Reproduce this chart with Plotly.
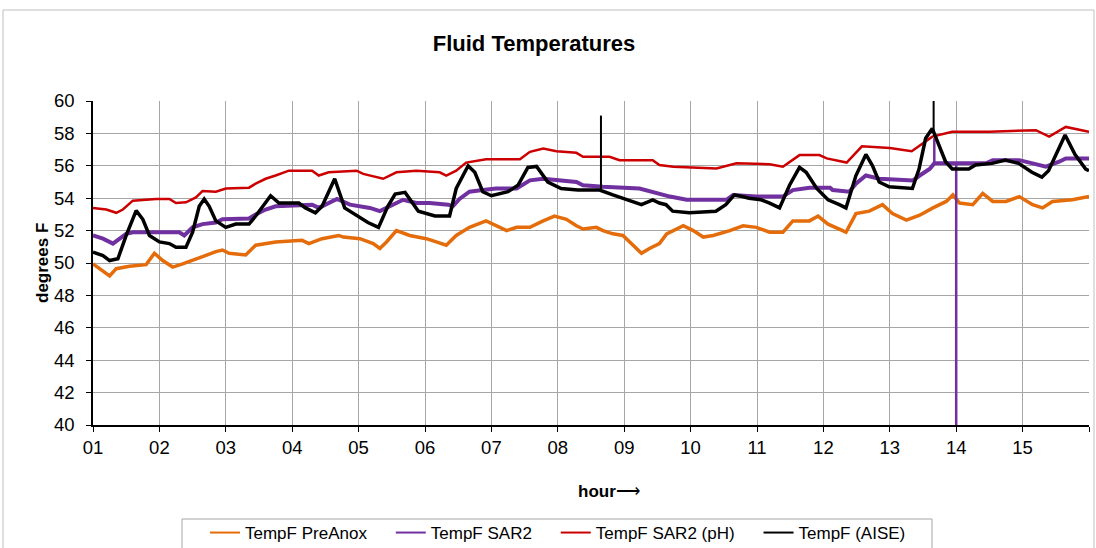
import plotly.graph_objects as go

# ---------------- data ----------------
day_ticks = list(range(1, 17))
day_labels = [f"{d:02d}" for d in range(1, 16)] + [""]
y_ticks = list(range(40, 61, 2))

preanox_x = [1.0, 1.15, 1.25, 1.35, 1.55, 1.8, 1.925, 2.05, 2.2, 2.35, 2.5, 2.65, 2.85, 2.95, 3.05, 3.3,
             3.45, 3.75, 4.15, 4.25, 4.45, 4.7, 4.77, 5.02, 5.22, 5.32, 5.42, 5.57, 5.77, 6.02, 6.17, 6.32,
             6.47, 6.67, 6.92, 7.07, 7.23, 7.38, 7.58, 7.78, 7.95, 8.13, 8.28, 8.38, 8.58, 8.68, 8.83, 8.98,
             9.13, 9.26, 9.38, 9.53, 9.64, 9.89, 10.04, 10.19, 10.34, 10.59, 10.79, 10.99, 11.19, 11.39,
             11.54, 11.79, 11.92, 12.07, 12.29, 12.34, 12.49, 12.69, 12.89, 13.04, 13.25, 13.45, 13.65,
             13.85, 13.95, 14.05, 14.25, 14.4, 14.55, 14.75, 14.95, 15.15, 15.3, 15.45, 15.75, 15.95, 16.0]
preanox_y = [49.95, 49.5, 49.2, 49.65, 49.8, 49.9, 50.6, 50.15, 49.75, 49.95, 50.15, 50.4, 50.7, 50.8, 50.6, 50.5,
             51.1, 51.3, 51.4, 51.2, 51.5, 51.7, 51.6, 51.5, 51.2, 50.9, 51.3, 52.0, 51.7, 51.5, 51.3, 51.1,
             51.7, 52.2, 52.6, 52.3, 52.0, 52.2, 52.2, 52.6, 52.9, 52.7, 52.3, 52.1, 52.2, 52.0, 51.8, 51.7,
             51.1, 50.6, 50.9, 51.2, 51.8, 52.3, 52.0, 51.6, 51.7, 52.0, 52.3, 52.2, 51.9, 51.9,
             52.6, 52.6, 52.9, 52.4, 52.0, 51.9, 53.05, 53.2, 53.6, 53.05, 52.65, 52.95, 53.4,
             53.8, 54.2, 53.7, 53.6, 54.3, 53.8, 53.8, 54.1, 53.6, 53.4, 53.8, 53.9, 54.1, 54.1]

sar2_x = [1.0, 1.15, 1.3, 1.4, 1.5, 1.6, 2.3, 2.375, 2.5, 2.65, 2.85, 2.95, 3.35, 3.45, 3.6, 3.75, 4.15,
          4.3, 4.4, 4.55, 4.675, 4.87, 5.17, 5.32, 5.47, 5.67, 5.87, 6.07, 6.35, 6.42, 6.52, 6.67, 6.87,
          7.07, 7.38, 7.58, 7.78, 8.08, 8.28, 8.38, 8.68, 9.23, 9.49, 9.69, 9.94, 10.54, 10.64, 10.99,
          11.39, 11.54, 11.79, 12.1, 12.14, 12.39, 12.49, 12.64, 12.84, 13.35, 13.45, 13.6, 13.67, 13.75,
          13.99, 14.45, 14.55, 14.95, 15.15, 15.35, 15.55, 15.65, 15.95, 16.0]
sar2_y = [51.7, 51.5, 51.2, 51.5, 51.8, 51.9, 51.9, 51.7, 52.2, 52.4, 52.5, 52.7, 52.75, 53.0, 53.3, 53.5, 53.6,
          53.6, 53.4, 53.7, 53.95, 53.6, 53.4, 53.2, 53.5, 53.9, 53.7, 53.7, 53.6, 53.5, 53.95, 54.4, 54.5,
          54.6, 54.6, 55.1, 55.2, 55.1, 55.0, 54.8, 54.7, 54.6, 54.3, 54.1, 53.9, 53.9, 54.2, 54.1,
          54.1, 54.5, 54.65, 54.65, 54.5, 54.4, 54.9, 55.4, 55.2, 55.1, 55.4, 55.8, 56.15, 56.15,
          56.1, 56.15, 56.35, 56.35, 56.15, 55.95, 56.25, 56.45, 56.45, 56.45]
# thin excursions of the SAR2 probe (spike at 13.67, dropout at 14.0)
sar2_spike_x = [13.67, 13.67, None, 14.0, 14.0]
sar2_spike_y = [56.1, 57.7, None, 56.1, 39.0]

ph_x = [1.0, 1.2, 1.35, 1.45, 1.6, 1.95, 2.15, 2.25, 2.4, 2.55, 2.65, 2.85, 3.0, 3.35, 3.45, 3.6, 3.75,
        3.95, 4.3, 4.4, 4.55, 4.97, 5.07, 5.37, 5.57, 5.87, 6.22, 6.32, 6.47, 6.62, 6.92, 7.28, 7.43,
        7.58, 7.78, 7.98, 8.28, 8.38, 8.78, 8.93, 9.43, 9.53, 9.74, 10.39, 10.69, 11.19, 11.39, 11.64,
        11.94, 12.05, 12.35, 12.58, 13.0, 13.33, 13.64, 13.94, 14.5, 15.2, 15.4, 15.65, 16.0]
ph_y = [53.4, 53.3, 53.1, 53.3, 53.85, 53.95, 53.95, 53.7, 53.75, 54.05, 54.45, 54.4, 54.6, 54.65, 54.9, 55.2, 55.4,
        55.7, 55.7, 55.4, 55.6, 55.7, 55.5, 55.2, 55.6, 55.7, 55.6, 55.4, 55.7, 56.2, 56.4, 56.4, 56.4,
        56.86, 57.07, 56.9, 56.8, 56.56, 56.56, 56.35, 56.35, 56.05, 55.94, 55.84, 56.15, 56.1, 55.94, 56.66,
        56.66, 56.46, 56.2, 57.2, 57.1, 56.9, 57.8, 58.1, 58.1, 58.2, 57.8, 58.4, 58.1]

aise_x = [1.0, 1.15, 1.25, 1.375, 1.5, 1.65, 1.75, 1.85, 2.0, 2.15, 2.25, 2.4, 2.5, 2.6, 2.675, 2.75, 2.85,
          3.0, 3.15, 3.35, 3.45, 3.6, 3.675, 3.8, 4.1, 4.2, 4.35, 4.45, 4.57, 4.64, 4.79, 4.985, 5.14, 5.3,
          5.44, 5.55, 5.7, 5.9, 6.15, 6.37, 6.47, 6.65, 6.75, 6.87, 7.0, 7.25, 7.4, 7.55, 7.68, 7.85, 8.05,
          8.3, 8.63, 8.83, 9.03, 9.26, 9.43, 9.53, 9.63, 9.73, 9.98, 10.38, 10.53, 10.66, 10.78, 10.88,
          11.06, 11.19, 11.34, 11.49, 11.64, 11.74, 11.9, 12.07, 12.24, 12.34, 12.49, 12.64, 12.74, 12.84,
          12.99, 13.34, 13.44, 13.54, 13.64, 13.74, 13.84, 13.94, 14.19, 14.29, 14.54, 14.74, 14.94,
          15.14, 15.29, 15.39, 15.64, 15.79, 15.95, 16.0]
aise_y = [50.67, 50.46, 50.15, 50.26, 51.7, 53.23, 52.7, 51.7, 51.3, 51.2, 50.97, 50.97, 51.9, 53.5, 53.95, 53.5, 52.6,
          52.2, 52.4, 52.4, 52.9, 53.7, 54.15, 53.7, 53.7, 53.4, 53.1, 53.5, 54.5, 55.2, 53.4, 52.9, 52.5, 52.2,
          53.5, 54.26, 54.36, 53.2, 52.9, 52.9, 54.6, 56.0, 55.6, 54.4, 54.15, 54.4, 54.8, 55.9, 55.96, 55.0, 54.6,
          54.5, 54.5, 54.2, 53.9, 53.6, 53.9, 53.7, 53.6, 53.2, 53.1, 53.2, 53.6, 54.2, 54.1, 54.0,
          53.9, 53.7, 53.4, 54.8, 55.9, 55.6, 54.6, 53.9, 53.6, 53.4, 55.4, 56.7, 56.0, 55.0,
          54.7, 54.6, 55.8, 57.7, 58.3, 57.3, 56.25, 55.8, 55.8, 56.05, 56.15, 56.35, 56.15,
          55.6, 55.3, 55.7, 57.9, 56.7, 55.8, 55.7]
# thin spikes of the AISE probe
aise_spike_x = [8.65, 8.65, None, 13.66, 13.66]
aise_spike_y = [54.4, 59.1, None, 58.2, 61.0]

series_names = ["TempF PreAnox", "TempF SAR2", "TempF SAR2 (pH)", "TempF (AISE)"]

# ---------------- figure ----------------
C_ORANGE = "#E46C0A"
C_PURPLE = "#7030A0"
C_RED = "#CC0000"
C_BLACK = "#000000"
colors = [C_ORANGE, C_PURPLE, C_RED, C_BLACK]
FONT = "Arial, Liberation Sans, sans-serif"

fig = go.Figure()
fig.add_trace(go.Scatter(x=preanox_x, y=preanox_y, mode="lines", name=series_names[0], showlegend=False,
                         line=dict(color=C_ORANGE, width=3.5)))
fig.add_trace(go.Scatter(x=sar2_x, y=sar2_y, mode="lines", name=series_names[1], showlegend=False,
                         line=dict(color=C_PURPLE, width=4)))
fig.add_trace(go.Scatter(x=sar2_spike_x, y=sar2_spike_y, mode="lines", showlegend=False,
                         line=dict(color=C_PURPLE, width=2.5), connectgaps=False))
fig.add_trace(go.Scatter(x=ph_x, y=ph_y, mode="lines", name=series_names[2], showlegend=False,
                         line=dict(color=C_RED, width=2.5)))
fig.add_trace(go.Scatter(x=aise_x, y=aise_y, mode="lines", name=series_names[3], showlegend=False,
                         line=dict(color=C_BLACK, width=3.5)))
fig.add_trace(go.Scatter(x=aise_spike_x, y=aise_spike_y, mode="lines", showlegend=False,
                         line=dict(color=C_BLACK, width=2), connectgaps=False))

# legend entries (thin line samples, as in the original legend)
for nm, col in zip(series_names, colors):
    fig.add_trace(go.Scatter(x=[None], y=[None], mode="lines", name=nm + "\u00a0" * 4,
                             line=dict(color=col, width=2), showlegend=True))

L, R, T, B = 93, 7, 101, 123
W, H = 1096, 548
pw, ph_ = W - L - R, H - T - B

def px_x(p):
    return (p - L) / pw

def px_y(p):
    return (H - B - p) / ph_

fig.update_layout(
    width=W, height=H,
    margin=dict(l=L, r=R, t=T, b=B, pad=0, autoexpand=False),
    paper_bgcolor="white", plot_bgcolor="white",
    font=dict(family=FONT, color="black", size=17),
    title=dict(text="<b>Fluid Temperatures</b>", x=534 / W, xref="container", xanchor="center",
               y=1 - 43 / H, yref="container", yanchor="middle",
               font=dict(family=FONT, size=22, color="black")),
    showlegend=True,
    legend=dict(orientation="h", x=px_x(205), xanchor="left", y=px_y(515), yanchor="top",
                borderwidth=0, bgcolor="rgba(0,0,0,0)",
                font=dict(family=FONT, size=17, color="black"), itemwidth=30,
                traceorder="normal", tracegroupgap=0),
    xaxis=dict(range=[1, 16], tickmode="array", tickvals=day_ticks, ticktext=day_labels,
               showgrid=True, gridcolor="#a6a6a6", gridwidth=1,
               showline=True, linecolor="black", linewidth=1.5,
               ticks="outside", ticklen=5, tickcolor="black", tickwidth=1,
               zeroline=False, tickfont=dict(size=18.5)),
    yaxis=dict(range=[40, 60], tickmode="array", tickvals=y_ticks,
               showgrid=True, gridcolor="#a6a6a6", gridwidth=1,
               showline=True, linecolor="black", linewidth=1.5,
               ticks="outside", ticklen=5, tickcolor="black", tickwidth=1,
               ticklabelstandoff=8,
               zeroline=False, tickfont=dict(size=18.5)),
    annotations=[
        dict(text="<b>degrees F</b>", x=px_x(42), y=0.5, xref="paper", yref="paper",
             textangle=-90, showarrow=False, xanchor="center", yanchor="middle",
             font=dict(family=FONT, size=17, color="black")),
        dict(text="<b>hour</b>\u27F6", x=px_x(609), y=px_y(491), xref="paper", yref="paper",
             showarrow=False, xanchor="center", yanchor="middle",
             font=dict(family=FONT, size=17, color="black")),
    ],
    shapes=[
        dict(type="rect", xref="paper", yref="paper", x0=px_x(3), x1=px_x(1094),
             y0=px_y(600), y1=px_y(10), line=dict(color="#bfbfbf", width=1), layer="below"),
        dict(type="rect", xref="paper", yref="paper", x0=px_x(182), x1=px_x(932),
             y0=px_y(600), y1=px_y(519), line=dict(color="#a6a6a6", width=1), layer="below"),
    ],
)

fig.write_html("out.html")
